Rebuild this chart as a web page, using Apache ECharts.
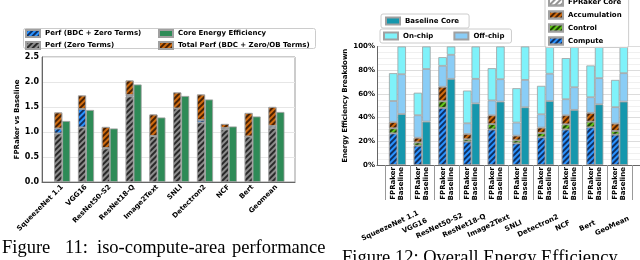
<!DOCTYPE html>
<html><head><meta charset="utf-8">
<script src="https://cdn.jsdelivr.net/npm/echarts@6/dist/echarts.min.js"></script>
<style>html,body{margin:0;padding:0;background:#fff}#c{width:640px;height:260px}</style>
</head><body><div id="c"></div>
<script>
// ---------- Figure 11 data ----------
const perfCats = ['SqueezeNet 1.1','VGG16','ResNet50-S2','ResNet18-Q','Image2Text','SNLI','Detectron2','NCF','Bert','Geomean'];
const perfZero  = [0.97, 1.09, 0.67, 1.71, 0.92, 1.47, 1.19, 1.05, 0.91, 1.08]; // Perf (Zero Terms)
const perfBDC   = [1.07, 1.46, 0.68, 1.74, 0.92, 1.47, 1.24, 1.08, 0.91, 1.12]; // Perf (BDC + Zero Terms), cumulative
const perfTotal = [1.39, 1.73, 1.10, 2.03, 1.35, 1.79, 1.75, 1.16, 1.38, 1.50]; // Total Perf, cumulative
const coreEE    = [1.22, 1.44, 1.07, 1.95, 1.29, 1.72, 1.65, 1.11, 1.31, 1.40]; // Core Energy Efficiency
const perfTicks = [0, 0.5, 1.0, 1.5, 2.0, 2.5];

// ---------- Figure 12 data (percent segments) ----------
const eeCats = ['SqueezeNet 1.1','VGG16','ResNet50-S2','ResNet18-Q','Image2Text','SNLI','Detectron2','NCF','Bert','GeoMean'];
const barNames = ['FPRaker','Baseline'];
const fpCompute = [26.7, 16.3, 48.2, 19.7, 30.0, 18.3, 23.4, 30.0, 31.8, 25.6];
const fpControl = [4.3, 2.7, 5.6, 2.0, 4.5, 2.5, 3.6, 4.3, 4.8, 3.1];
const fpAccum   = [5.2, 4.0, 12.2, 4.5, 7.5, 4.0, 4.6, 7.7, 7.4, 6.3];
const fpOffChip = [17.8, 19.0, 17.7, 9.0, 12.5, 11.0, 11.2, 13.5, 13.2, 13.8];
const fpOnChip  = [23.5, 19.0, 7.3, 27.6, 27.2, 29.0, 24.0, 34.7, 26.8, 23.0];
const blCore    = [43.0, 36.6, 72.7, 52.0, 53.5, 48.7, 54.0, 46.5, 51.2, 53.5];
const blOffChip = [33.6, 44.4, 20.3, 20.7, 18.9, 23.1, 23.0, 19.1, 22.1, 24.0];
const blOnChip  = [23.4, 19.0, 7.0, 27.3, 27.6, 28.2, 23.0, 34.4, 26.7, 22.5];
const eeTicks = [0, 20, 40, 60, 80, 100];

// ---------- helpers ----------
const F = 'DejaVu Sans';
const txt = (s, extra) => Object.assign({fontFamily: F, fontWeight: 'bold', fontSize: s, color: '#000'}, extra || {});
const hatch = c => ({symbol: 'rect', symbolSize: 1, dashArrayX: [1, 0], dashArrayY: [1.3, 1.7], rotation: -Math.PI / 4, color: c});
const EDGE = {borderColor: '#a0a0a0', borderWidth: 0.8};
// data as [value, position] so that the value dimension is stacked
const pts = arr => arr.map((v, i) => [+v.toFixed(3), i]);
const diff = (a, b) => a.map((v, i) => v - b[i]);

const C_GRAY = '#8c8c8c', C_BLUE = '#2a93ff', C_ORANGE = '#d06c10', C_GREEN = '#2e8b57';
const C_CTRL = '#62c41c', C_ONCHIP = '#7ff2fa', C_OFFCHIP = '#8acdf6', C_CORE = '#1597ad';

const halfBar = 1 / 6; // bar offset inside a group (in group units)
const fbLabelPos = [];
eeCats.forEach((_, i) => { fbLabelPos.push(i - halfBar, i + halfBar); });
const sepPos = [];
for (let i = -1; i < eeCats.length; i++) sepPos.push(i + 0.5);
const groupShift = -0.3;
const groupPos = eeCats.map((_, i) => i + groupShift);

const barBase = (extra) => Object.assign({type: 'bar', barWidth: 8, barGap: '0%', encode: {x: 1, y: 0}}, extra);

const chart = echarts.init(document.getElementById('c'), null, {renderer: 'canvas', width: 640, height: 260});
chart.setOption({
  animation: false,
  backgroundColor: '#fff',
  grid: [
    {left: 42, top: 57, right: 345, bottom: 78, show: true, borderColor: '#999', borderWidth: 1, backgroundColor: 'transparent'},
    {left: 377, top: 46.5, right: -10, bottom: 95}
  ],
  xAxis: [
    {type: 'value', gridIndex: 0, min: -0.85, max: 9.78,
     axisLine: {show: true, onZero: false, lineStyle: {color: '#666'}}, axisTick: {show: false}, splitLine: {show: false},
     axisLabel: Object.assign(txt(7), {customValues: perfCats.map((_, i) => i), rotate: 45, margin: 4,
       formatter: v => perfCats[Math.round(v)] || ''})},
    {type: 'value', gridIndex: 1, min: -0.83, max: 9.83,
     axisLine: {show: true, onZero: false, lineStyle: {color: '#666'}},
     axisTick: {show: true, customValues: sepPos, length: 35, lineStyle: {color: '#999'}},
     splitLine: {show: false},
     axisLabel: Object.assign(txt(7), {customValues: fbLabelPos, rotate: 90, margin: 2,
       formatter: v => (v - Math.floor(v + 0.5) < 0 ? barNames[0] : barNames[1])})},
    {type: 'value', gridIndex: 1, min: -0.83, max: 9.83, position: 'bottom',
     axisLine: {show: false}, axisTick: {show: false}, splitLine: {show: false},
     axisLabel: Object.assign(txt(7), {customValues: groupPos, rotate: 25, margin: 61, align: 'center', verticalAlign: 'middle',
       formatter: v => eeCats[Math.round(v - groupShift)] || ''})}
  ],
  yAxis: [
    {type: 'value', gridIndex: 0, min: 0, max: 2.5, interval: 0.5,
     name: 'FPRaker vs Baseline', nameLocation: 'middle', nameGap: 15, nameTextStyle: txt(7),
     axisLine: {show: true, onZero: false, lineStyle: {color: '#666'}}, axisTick: {show: false},
     splitLine: {show: true, lineStyle: {color: '#e6e6e6'}},
     axisLabel: Object.assign(txt(8), {margin: 3, formatter: v => v.toFixed(1)})},
    {type: 'value', gridIndex: 1, min: 0, max: 100, interval: 20,
     name: 'Energy Efficiency Breakdown', nameLocation: 'middle', nameGap: 28, nameTextStyle: txt(7),
     axisLine: {show: true, onZero: false, lineStyle: {color: '#666'}}, axisTick: {show: false},
     splitLine: {show: true, lineStyle: {color: '#dcdcdc'}},
     minorTick: {show: false, splitNumber: 4},
     minorSplitLine: {show: true, lineStyle: {color: '#f0f0f0'}},
     axisLabel: Object.assign(txt(7), {margin: 2, formatter: '{value}%'})}
  ],
  legend: [
    {left: 25, top: 29, orient: 'vertical', padding: 0, itemWidth: 14, itemHeight: 7, itemGap: 3, icon: 'rect',
     selectedMode: false, textStyle: txt(7), data: ['Perf (BDC + Zero Terms)', 'Perf (Zero Terms)']},
    {left: 158, top: 29, orient: 'vertical', padding: 0, itemWidth: 14, itemHeight: 7, itemGap: 3, icon: 'rect',
     selectedMode: false, textStyle: txt(7), data: ['Core Energy Efficiency', 'Total Perf (BDC + Zero/OB Terms)']},
    {left: 381, top: 14, padding: [2.5, 10, 2.5, 4], itemWidth: 14, itemHeight: 7, icon: 'rect', selectedMode: false,
     borderColor: '#ccc', borderWidth: 1, borderRadius: 2, backgroundColor: 'rgba(255,255,255,0.85)',
     textStyle: txt(7), data: ['Baseline Core']},
    {left: 380, top: 29, padding: [2.5, 7, 2.5, 3], itemWidth: 14, itemHeight: 7, itemGap: 20, icon: 'rect', selectedMode: false,
     borderColor: '#ccc', borderWidth: 1, borderRadius: 2, backgroundColor: 'rgba(255,255,255,0.85)',
     textStyle: txt(7), data: ['On-chip', 'Off-chip']},
    {left: 545, top: -5.5, orient: 'vertical', padding: [3, 7, 2, 3], itemWidth: 14, itemHeight: 7, itemGap: 4, icon: 'rect', selectedMode: false,
     borderColor: '#ccc', borderWidth: 1, borderRadius: 2, backgroundColor: 'rgba(255,255,255,0.85)',
     textStyle: txt(7), data: ['FPRaker Core', 'Accumulation', 'Control', 'Compute']}
  ],
  graphic: [
    {type: 'rect', z: 1, shape: {x: 23.5, y: 28.5, width: 292, height: 20, r: 2},
     style: {fill: 'rgba(255,255,255,0.85)', stroke: '#ccc', lineWidth: 1}},
    {type: 'text', x: 2, y: 248.5, style: {text: 'Figure', font: '18.5px "Liberation Serif"', fill: '#000', verticalAlign: 'middle'}},
    {type: 'text', x: 65, y: 248.5, style: {text: '11:', font: '18.5px "Liberation Serif"', fill: '#000', verticalAlign: 'middle'}},
    {type: 'text', x: 97, y: 248.5, style: {text: 'iso-compute-area', font: '18.5px "Liberation Serif"', fill: '#000', verticalAlign: 'middle'}},
    {type: 'text', x: 232, y: 248.5, style: {text: 'performance', font: '18.5px "Liberation Serif"', fill: '#000', verticalAlign: 'middle'}},
    {type: 'text', x: 342, y: 258.5, style: {text: 'Figure 12: Overall Energy Efficiency', font: '18.5px "Liberation Serif"', fill: '#000', verticalAlign: 'middle'}}
  ],
  series: [
    // Figure 11
    barBase({name: 'Perf (Zero Terms)', xAxisIndex: 0, yAxisIndex: 0, stack: 'perf', data: pts(perfZero),
      itemStyle: Object.assign({color: C_GRAY, decal: hatch('rgba(30,30,30,0.9)')}, EDGE)}),
    barBase({name: 'Perf (BDC + Zero Terms)', xAxisIndex: 0, yAxisIndex: 0, stack: 'perf', data: pts(diff(perfBDC, perfZero)),
      itemStyle: Object.assign({color: C_BLUE, decal: hatch('rgba(10,30,70,0.85)')}, EDGE)}),
    barBase({name: 'Total Perf (BDC + Zero/OB Terms)', xAxisIndex: 0, yAxisIndex: 0, stack: 'perf', data: pts(diff(perfTotal, perfBDC)),
      itemStyle: Object.assign({color: C_ORANGE, decal: hatch('rgba(50,20,0,0.85)')}, EDGE)}),
    barBase({name: 'Core Energy Efficiency', xAxisIndex: 0, yAxisIndex: 0, stack: 'ee', data: pts(coreEE),
      itemStyle: Object.assign({color: C_GREEN}, EDGE)}),
    // Figure 12 - FPRaker bars
    barBase({name: 'Compute', xAxisIndex: 1, yAxisIndex: 1, stack: 'fp', barWidth: 8.5, data: pts(fpCompute),
      itemStyle: Object.assign({color: C_BLUE, decal: hatch('rgba(10,30,70,0.85)')}, EDGE)}),
    barBase({name: 'Control', xAxisIndex: 1, yAxisIndex: 1, stack: 'fp', barWidth: 8.5, data: pts(fpControl),
      itemStyle: Object.assign({color: C_CTRL, decal: hatch('rgba(20,50,0,0.85)')}, EDGE)}),
    barBase({name: 'Accumulation', xAxisIndex: 1, yAxisIndex: 1, stack: 'fp', barWidth: 8.5, data: pts(fpAccum),
      itemStyle: Object.assign({color: C_ORANGE, decal: hatch('rgba(50,20,0,0.85)')}, EDGE)}),
    barBase({name: 'FPRaker Core', xAxisIndex: 1, yAxisIndex: 1, stack: 'fp', barWidth: 8.5, data: [],
      itemStyle: Object.assign({color: '#ffffff', decal: hatch('rgba(120,120,120,0.8)')}, EDGE)}),
    barBase({name: 'Off-chip', xAxisIndex: 1, yAxisIndex: 1, stack: 'fp', barWidth: 8.5, data: pts(fpOffChip),
      itemStyle: Object.assign({color: C_OFFCHIP}, EDGE)}),
    barBase({name: 'On-chip', xAxisIndex: 1, yAxisIndex: 1, stack: 'fp', barWidth: 8.5, data: pts(fpOnChip),
      itemStyle: Object.assign({color: C_ONCHIP}, EDGE)}),
    // Figure 12 - Baseline bars
    barBase({name: 'Baseline Core', xAxisIndex: 1, yAxisIndex: 1, stack: 'bl', barWidth: 8.5, data: pts(blCore),
      itemStyle: Object.assign({color: C_CORE}, EDGE)}),
    barBase({name: 'Off-chip', xAxisIndex: 1, yAxisIndex: 1, stack: 'bl', barWidth: 8.5, data: pts(blOffChip),
      itemStyle: Object.assign({color: C_OFFCHIP}, EDGE)}),
    barBase({name: 'On-chip', xAxisIndex: 1, yAxisIndex: 1, stack: 'bl', barWidth: 8.5, data: pts(blOnChip),
      itemStyle: Object.assign({color: C_ONCHIP}, EDGE)})
  ]
});
</script></body></html>
